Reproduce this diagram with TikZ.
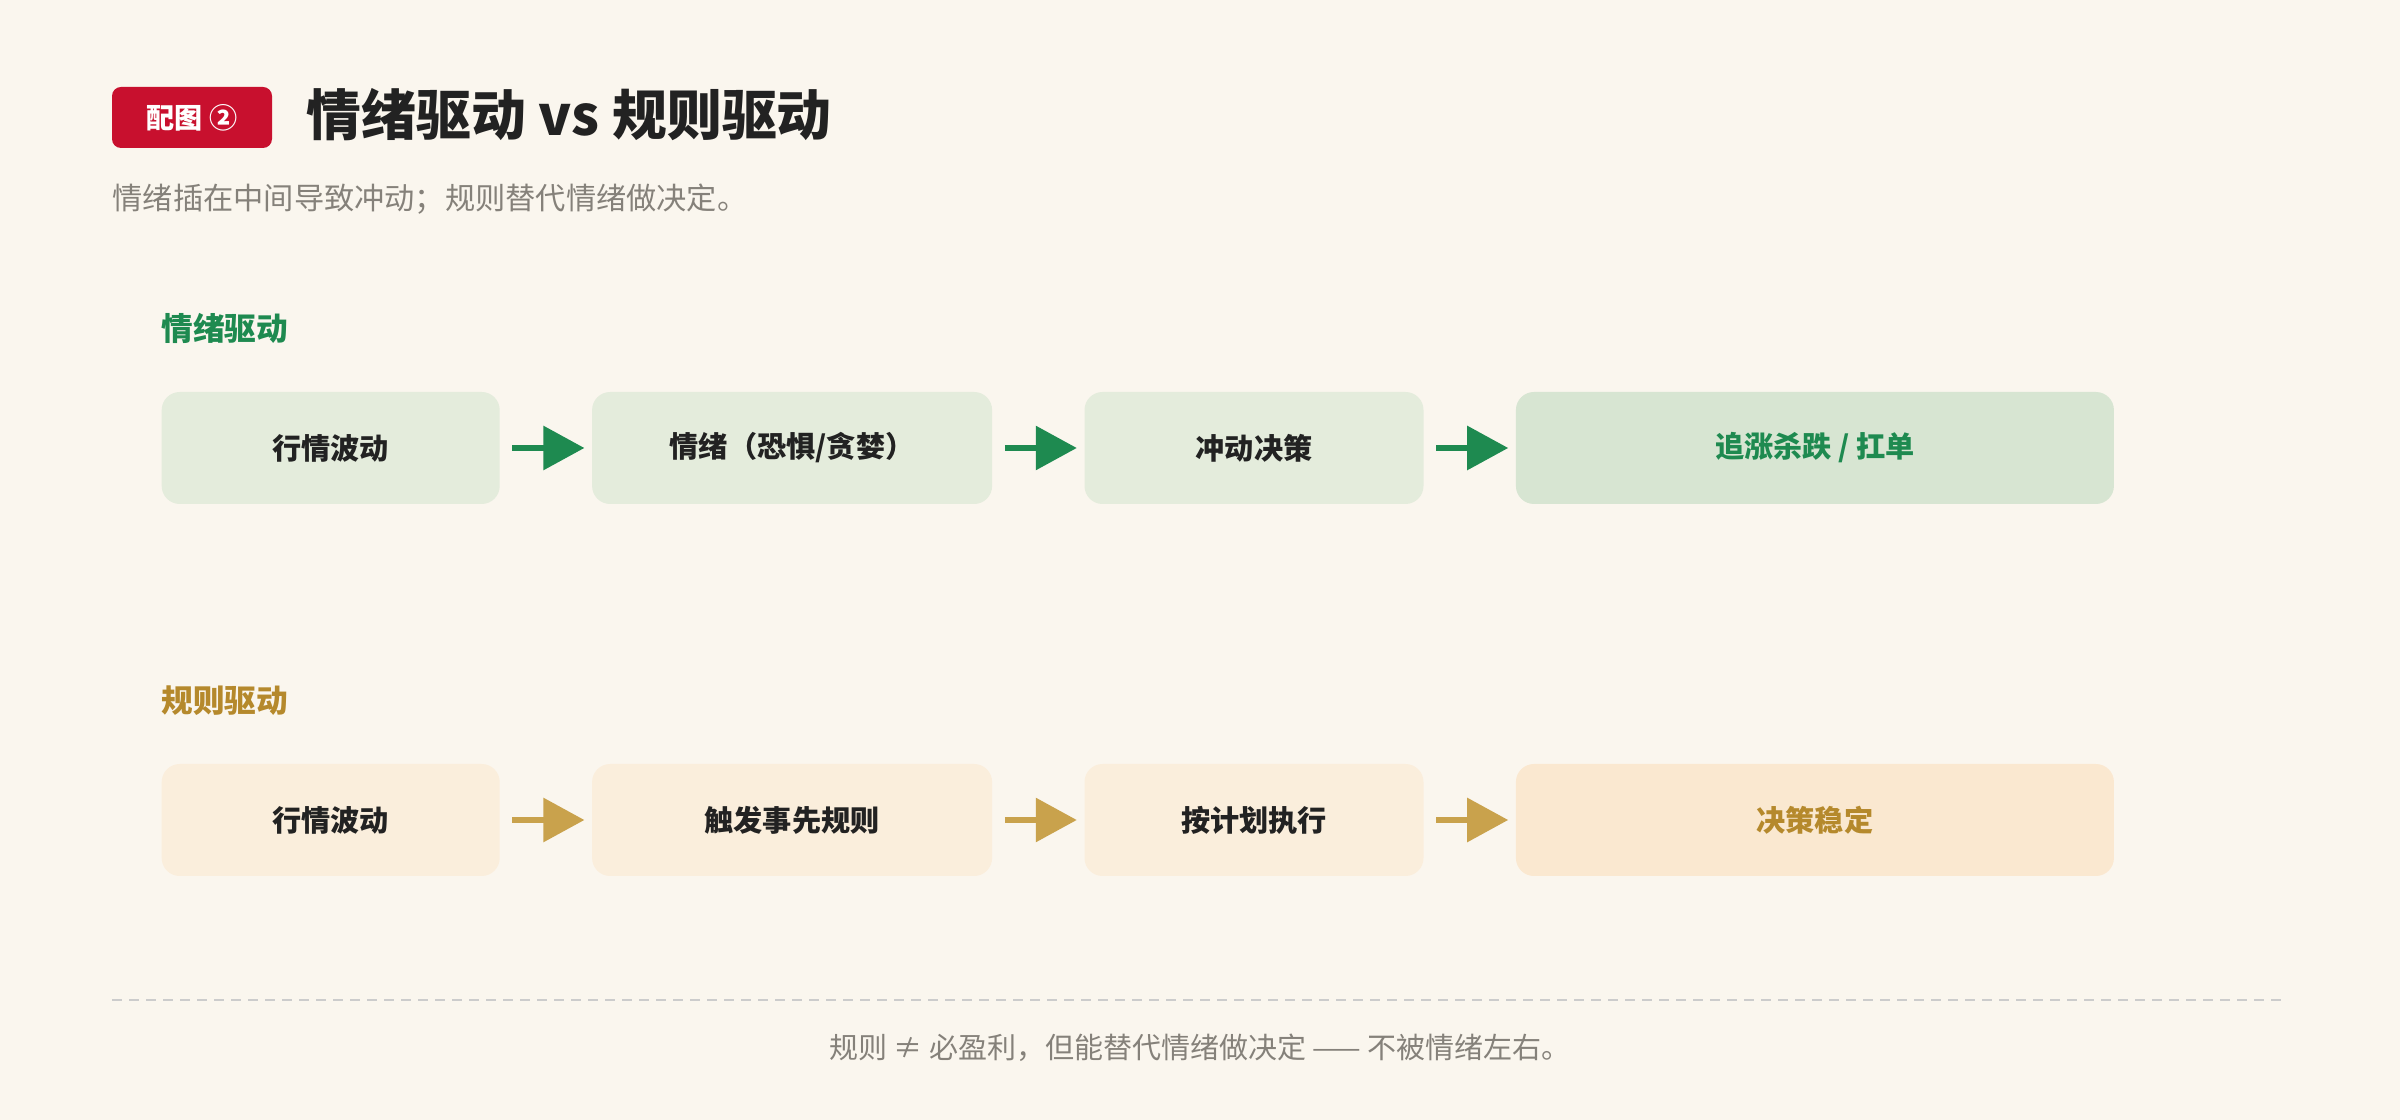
\documentclass[tikz,border=0pt]{standalone}
\usepackage{fontspec}
\setmainfont{Noto Sans CJK SC}
\usetikzlibrary{positioning,arrows.meta}

\definecolor{sfondo}{HTML}{FAF6EE}
\definecolor{rosso}{HTML}{C8102E}
\definecolor{scuro}{HTML}{222222}
\definecolor{grigio}{HTML}{85817A}
\definecolor{verde}{HTML}{1E8A50}
\definecolor{verdechiaro}{HTML}{E4ECDC}
\definecolor{verdefinale}{HTML}{D7E5D2}
\definecolor{oro}{HTML}{C9A24C}
\definecolor{orotesto}{HTML}{B5892C}
\definecolor{orochiaro}{HTML}{FAEEDC}
\definecolor{orofinale}{HTML}{FAE8D0}

\tikzset{
  casella/.style={rounded corners=1.8mm, minimum height=11.2mm, inner sep=0pt,
    font=\fontsize{8.3pt}{10pt}\selectfont\bfseries, text=scuro},
  freccia/.style={line width=0.6mm, -{Triangle[length=4.1mm, width=4.3mm]},
    shorten <=1.2mm, shorten >=0.7mm},
  etichetta/.style={anchor=west, inner sep=0pt, font=\fontsize{9pt}{11pt}\selectfont\bfseries}
}

\begin{document}
\begin{tikzpicture}[x=0.1mm, y=-0.1mm, node distance=9.1mm]

    % sfondo e margini
    \fill[sfondo] (0,0) rectangle (2400,1120);

    % ----------------------------------------------------
    % Titolo
    % ----------------------------------------------------
    \node[fill=rosso, rounded corners=0.9mm, minimum width=16mm, minimum height=6.1mm,
          text=white, font=\fontsize{8pt}{9pt}\selectfont\bfseries] (badge) at (192,117.5) {配图 ②};
    \node[anchor=west, inner sep=0pt, text=scuro, font=\fontsize{15.6pt}{18pt}\selectfont\bfseries]
        (titolo) at (306,115) {情绪驱动 vs 规则驱动};
    \node[anchor=west, inner sep=0pt, text=grigio, font=\fontsize{8.6pt}{10pt}\selectfont]
        (sottotitolo) at (112,199) {情绪插在中间导致冲动；规则替代情绪做决定。};

    % ----------------------------------------------------
    % 1. Catena emotiva
    % ----------------------------------------------------
    \node[etichetta, text=verde] (lblG) at (161,328) {情绪驱动};
    \node[casella, fill=verdechiaro, minimum width=33.8mm, anchor=west] (g1) at (161,448) {行情波动};
    \node[casella, fill=verdechiaro, minimum width=40mm, right=of g1] (g2) {情绪（恐惧/贪婪）};
    \node[casella, fill=verdechiaro, minimum width=33.9mm, right=of g2] (g3) {冲动决策};
    \node[casella, fill=verdefinale, minimum width=59.8mm, right=of g3, text=verde] (g4) {追涨杀跌 / 扛单};
    \foreach \a/\b in {g1/g2, g2/g3, g3/g4}
        \draw[freccia, verde] (\a) -- (\b);

    % ----------------------------------------------------
    % 2. Catena delle regole
    % ----------------------------------------------------
    \node[etichetta, text=orotesto] (lblR) at (161,701) {规则驱动};
    \node[casella, fill=orochiaro, minimum width=33.8mm, anchor=west] (r1) at (161,820) {行情波动};
    \node[casella, fill=orochiaro, minimum width=40mm, right=of r1] (r2) {触发事先规则};
    \node[casella, fill=orochiaro, minimum width=33.9mm, right=of r2] (r3) {按计划执行};
    \node[casella, fill=orofinale, minimum width=59.8mm, right=of r3, text=orotesto] (r4) {决策稳定};
    \foreach \a/\b in {r1/r2, r2/r3, r3/r4}
        \draw[freccia, oro] (\a) -- (\b);

    % ----------------------------------------------------
    % Nota finale
    % ----------------------------------------------------
    \draw[line width=0.15mm, draw=black!20, dash pattern=on 1mm off 0.7mm] (112,1000) -- (2281,1000);
    \node[inner sep=0pt, text=grigio, font=\fontsize{8.25pt}{10pt}\selectfont]
        (nota) at (1200,1048) {规则 ≠ 必盈利，但能替代情绪做决定 —— 不被情绪左右。};

\end{tikzpicture}
\end{document}
